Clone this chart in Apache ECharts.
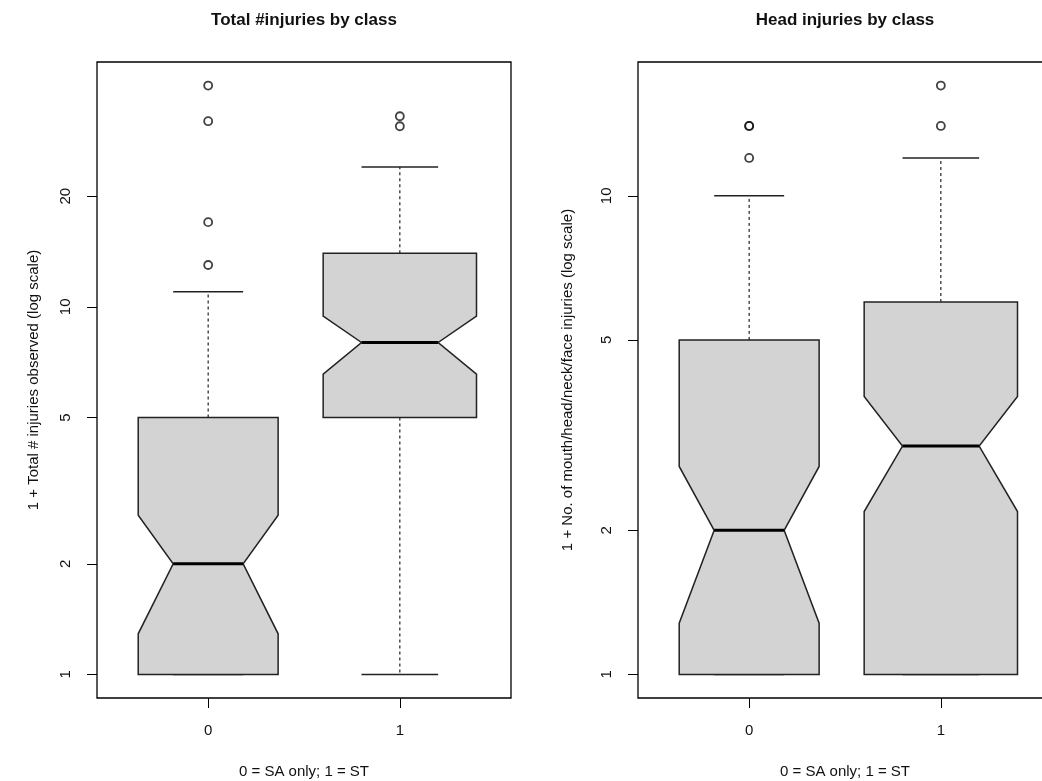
<!DOCTYPE html>
<html>
<head>
<meta charset="utf-8">
<title>Injuries by class</title>
<script src="https://cdn.jsdelivr.net/npm/echarts@6/dist/echarts.min.js"></script>
<style>
  html, body { margin: 0; padding: 0; background: #fff; }
  #chart { width: 1042px; height: 781px; }
</style>
</head>
<body>
<div id="chart"></div>
<script>
// groups on the x axis (0 = SA only, 1 = ST)
const classes = ['0', '1'];
const yTicksTotal = [1, 2, 5, 10, 20];
const yTicksHead = [1, 2, 5, 10];

// left panel: 1 + total injuries
const totalLow = [1, 1];
const totalQ1 = [1, 5];
const totalMedian = [2, 8];
const totalQ3 = [5, 14];
const totalHigh = [11, 24];
const totalNotchLo = [1.29, 6.56];
const totalNotchHi = [2.71, 9.44];
const totalOutliers = [[40, 32, 17, 13], [33, 31]];

// right panel: 1 + head/face injuries
const headLow = [1, 1];
const headQ1 = [1, 1];
const headMedian = [2, 3];
const headQ3 = [5, 6];
const headHigh = [10, 12];
const headNotchLo = [1.28, 2.19];
const headNotchHi = [2.72, 3.81];
const headOutliers = [[14, 14, 12], [17, 14]];

// box half widths in x units (boxes drawn with varwidth)
const halfWidth = [0.365, 0.40];

const textColor = '#111';
const font = 'Liberation Sans, Arial, sans-serif';

function boxData(low, q1, med, q3, high, nlo, nhi) {
    return classes.map((c, i) => [i + 1, low[i], nlo[i], q1[i], med[i], q3[i], nhi[i], high[i], i]);
}
function outlierData(out) {
    const res = [];
    out.forEach((vals, i) => vals.forEach(v => res.push([i + 1, v])));
    return res;
}
// R style range: data range plus 4% on a log scale
function logRange(low, high, outliers) {
    const all = low.concat(high, ...outliers);
    const a = Math.log10(Math.min(...all)), b = Math.log10(Math.max(...all));
    const d = (b - a) * 0.04;
    return [Math.pow(10, a - d), Math.pow(10, b + d)];
}

function renderNotch(params, api) {
    const x = api.value(0);
    const hw = halfWidth[api.value(8)];
    const p = (xx, yy) => api.coord([xx, yy]);
    const lo = api.value(1), nlo = api.value(2), q1 = api.value(3), med = api.value(4);
    const q3 = api.value(5), nhi = api.value(6), hi = api.value(7);
    const dash = { stroke: '#222', lineWidth: 1.2, lineDash: [3, 3] };
    const solid = { stroke: '#222', lineWidth: 1.5 };
    const line = (a, b, style) => ({ type: 'line', shape: { x1: a[0], y1: a[1], x2: b[0], y2: b[1] }, style: style });
    const poly = [
        p(x - hw, q1), p(x - hw, nlo), p(x - hw / 2, med), p(x - hw, nhi), p(x - hw, q3),
        p(x + hw, q3), p(x + hw, nhi), p(x + hw / 2, med), p(x + hw, nlo), p(x + hw, q1)
    ];
    return {
        type: 'group',
        children: [
            line(p(x, q3), p(x, hi), dash),
            line(p(x, q1), p(x, lo), dash),
            line(p(x - hw / 2, hi), p(x + hw / 2, hi), solid),
            line(p(x - hw / 2, lo), p(x + hw / 2, lo), solid),
            { type: 'polygon', shape: { points: poly }, style: { fill: '#d3d3d3', stroke: '#222', lineWidth: 1.5, lineJoin: 'miter' } },
            line(p(x - hw / 2, med), p(x + hw / 2, med), { stroke: '#000', lineWidth: 3 })
        ]
    };
}

function xAxisFor(idx) {
    return {
        type: 'value', gridIndex: idx, min: 0.42, max: 2.58,
        axisLine: { show: false },
        splitLine: { show: false },
        axisTick: { customValues: [1, 2], length: 10, lineStyle: { color: '#000', width: 1 } },
        axisLabel: { customValues: [1, 2], formatter: v => classes[v - 1], margin: 25, fontSize: 15, color: textColor, fontFamily: font },
        name: '0 = SA only; 1 = ST', nameLocation: 'middle', nameGap: 66,
        nameTextStyle: { fontSize: 15, color: textColor, fontFamily: font }
    };
}
function yAxisFor(idx, range, ticks, name, gap) {
    return {
        type: 'log', logBase: 10, gridIndex: idx, min: range[0], max: range[1],
        axisLine: { show: false },
        splitLine: { show: false },
        axisTick: { customValues: ticks, length: 10, lineStyle: { color: '#000', width: 1 } },
        axisLabel: { customValues: ticks, rotate: 90, margin: 24, fontSize: 15, color: textColor, fontFamily: font },
        name: name, nameLocation: 'middle', nameGap: gap,
        nameTextStyle: { fontSize: 15, color: textColor, fontFamily: font }
    };
}

const chart = echarts.init(document.getElementById('chart'), null, { renderer: 'canvas' });
const titleStyle = { fontSize: 17, fontWeight: 'bold', color: textColor, fontFamily: font };
const gridStyle = { show: true, borderColor: '#000', borderWidth: 1.3, backgroundColor: 'transparent', outerBoundsMode: 'none', containLabel: false };

chart.setOption({
    animation: false,
    backgroundColor: '#fff',
    title: [
        { text: 'Total #injuries by class', left: 304, top: 12, textAlign: 'center', padding: 0, textStyle: titleStyle },
        { text: 'Head injuries by class', left: 845, top: 12, textAlign: 'center', padding: 0, textStyle: titleStyle }
    ],
    grid: [
        Object.assign({ left: 97, top: 62, width: 414, height: 636 }, gridStyle),
        Object.assign({ left: 638, top: 62, width: 414, height: 636 }, gridStyle)
    ],
    xAxis: [xAxisFor(0), xAxisFor(1)],
    yAxis: [
        yAxisFor(0, logRange(totalLow, totalHigh, totalOutliers), yTicksTotal, '1 + Total # injuries observed (log scale)', 56),
        yAxisFor(1, logRange(headLow, headHigh, headOutliers), yTicksHead, '1 + No. of mouth/head/neck/face injuries (log scale)', 63)
    ],
    series: [
        {
            type: 'custom', xAxisIndex: 0, yAxisIndex: 0, renderItem: renderNotch,
            data: boxData(totalLow, totalQ1, totalMedian, totalQ3, totalHigh, totalNotchLo, totalNotchHi),
            encode: { x: 0, y: [1, 7] }
        },
        {
            type: 'scatter', xAxisIndex: 0, yAxisIndex: 0, symbol: 'circle', symbolSize: 8,
            itemStyle: { color: 'transparent', borderColor: '#111', borderWidth: 1.8 },
            data: outlierData(totalOutliers)
        },
        {
            type: 'custom', xAxisIndex: 1, yAxisIndex: 1, renderItem: renderNotch,
            data: boxData(headLow, headQ1, headMedian, headQ3, headHigh, headNotchLo, headNotchHi),
            encode: { x: 0, y: [1, 7] }
        },
        {
            type: 'scatter', xAxisIndex: 1, yAxisIndex: 1, symbol: 'circle', symbolSize: 8,
            itemStyle: { color: 'transparent', borderColor: '#111', borderWidth: 1.8 },
            data: outlierData(headOutliers)
        }
    ]
});
</script>
</body>
</html>
